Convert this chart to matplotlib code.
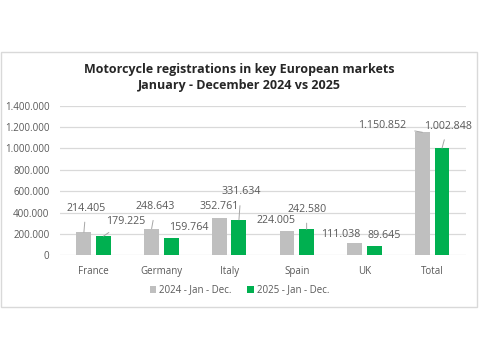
import matplotlib
matplotlib.use("Agg")
import matplotlib.pyplot as plt
from matplotlib.patches import Rectangle
from matplotlib.ticker import FuncFormatter, MultipleLocator
import numpy as np

plt.rcParams["font.family"] = ["Open Sans", "DejaVu Sans"]

GREY = "#BFBFBF"
GREEN = "#00B050"
TEXT = "#595959"
GRID = "#D9D9D9"

countries = ["France", "Germany", "Italy", "Spain", "UK", "Total"]
regs_2024 = [214405, 248643, 352761, 224005, 111038, 1150852]
regs_2025 = [179225, 159764, 331634, 242580, 89645, 1002848]
series_names = ["2024 - Jan - Dec.", "2025 - Jan - Dec."]

# label offsets from bar top, in pixels (dx, dy), and whether a leader line is drawn
off_2024 = [(2, 24, True), (4, 22, True), (0, 11, False), (-11, 11, False), (-14, 9, False), (-40, 7, True)]
off_2025 = [(22, 15, True), (18, 11, False), (2, 28, True), (0, 20, True), (10, 10, False), (6, 22, True)]


def fmt(v, _=None):
    return f"{int(v):,}".replace(",", ".")


fig = plt.figure(figsize=(4.79, 3.59), dpi=100, facecolor="white")
ax = fig.add_axes([0.125, 0.289, 0.848, 0.4166])

x = np.arange(len(countries))
w = 0.22
b1 = ax.bar(x - 0.145, regs_2024, w, color=GREY, label=series_names[0], zorder=3)
b2 = ax.bar(x + 0.145, regs_2025, w, color=GREEN, label=series_names[1], zorder=3)

ax.set_xlim(-0.5, len(countries) - 0.5)
ax.set_ylim(0, 1400000)
ax.yaxis.set_major_locator(MultipleLocator(200000))
ax.yaxis.set_major_formatter(FuncFormatter(fmt))
ax.set_xticks(x)
ax.set_xticklabels(countries)
ax.tick_params(axis="both", length=0, colors=TEXT, labelsize=7)
ax.tick_params(axis="x", pad=8)
ax.tick_params(axis="y", pad=7.5)
ax.grid(axis="y", color=GRID, linewidth=0.9, zorder=0)
for s in ax.spines.values():
    s.set_visible(False)

for bars, vals, offs in [(b1, regs_2024, off_2024), (b2, regs_2025, off_2025)]:
    for bar, v, (dx, dy, lead) in zip(bars, vals, offs):
        xc = bar.get_x() + bar.get_width() / 2
        ax.annotate(fmt(v), (xc, v), xytext=(dx, dy), textcoords="offset pixels",
                    ha="center", va="center", fontsize=7.7, color=TEXT,
                    arrowprops=dict(arrowstyle="-", color="#A6A6A6", lw=0.7,
                                    shrinkA=4, shrinkB=0) if lead else None,
                    zorder=5)

fig.text(0.5, 0.784, "Motorcycle registrations in key European markets\nJanuary - December 2024 vs 2025",
         ha="center", va="center", fontsize=9, fontweight="bold", color="#262626",
         linespacing=1.25)

fig.legend(handles=[b1, b2], labels=series_names, loc="center", bbox_to_anchor=(0.5, 0.192),
           ncol=2, frameon=False, fontsize=7, handlelength=0.7, handleheight=0.7,
           handletextpad=0.3, columnspacing=1.6, labelcolor=TEXT)

fig.patches.append(Rectangle((0.002, 1 - 307 / 359), 0.994, 255 / 359, transform=fig.transFigure,
                             fill=False, edgecolor=GRID, linewidth=1.0))

fig.savefig("out.png", dpi=100, facecolor="white")
